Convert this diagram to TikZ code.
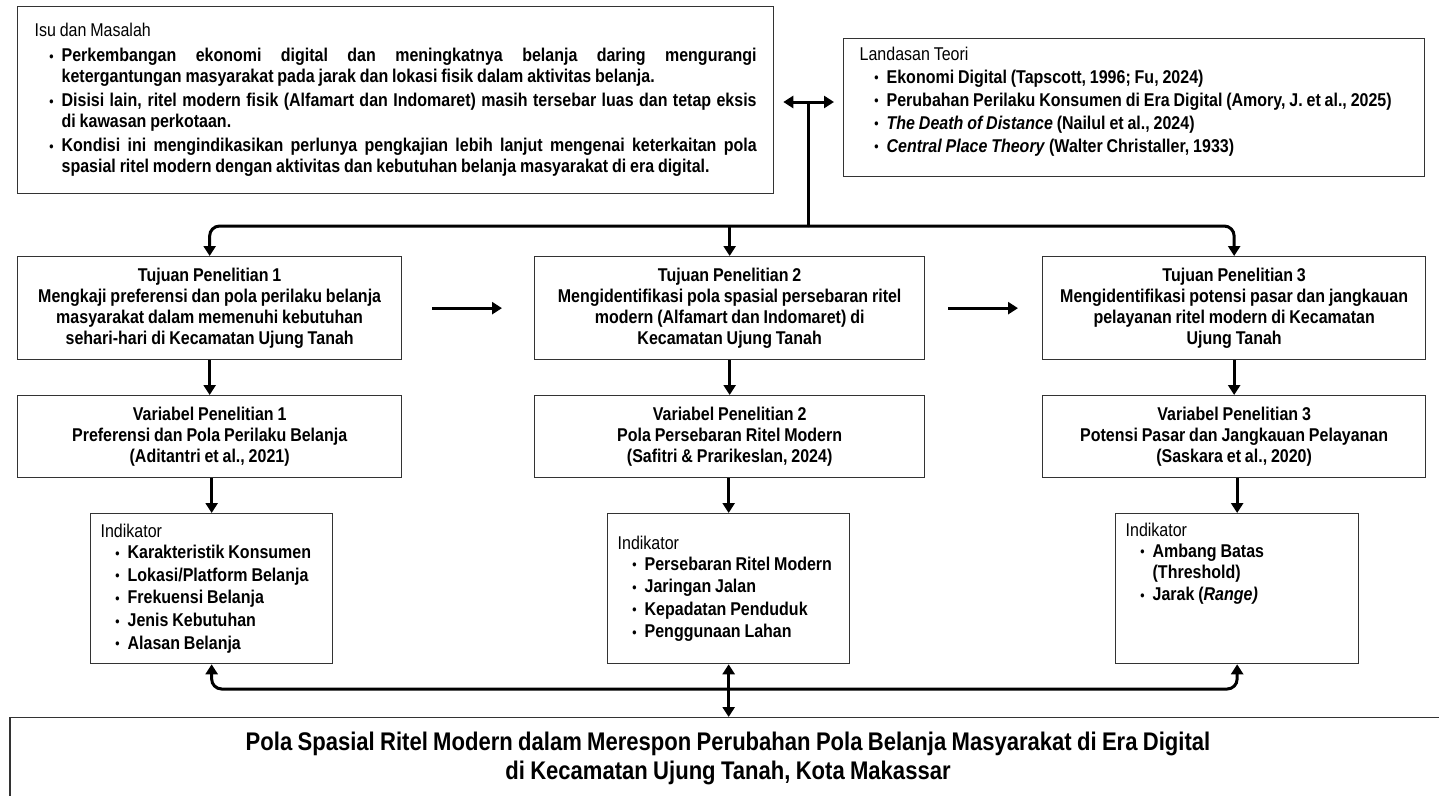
\documentclass[tikz,border=0pt]{standalone}
\usepackage{fontspec}
\setmainfont{Liberation Sans}[FakeStretch=0.865, WordSpace=0.865]
\usepackage{enumitem}
\usetikzlibrary{arrows.meta}
\definecolor{boxgray}{HTML}{333333}
\newcommand\bodyfont{\fontsize{18.5pt}{21pt}\selectfont}
\newcommand\titlefont{\fontsize{25.5pt}{29pt}\selectfont}
\newcommand\mybullet{\raisebox{0.5pt}{\fontsize{14pt}{14pt}\selectfont\textbullet}}
\setlist[itemize]{label=\mybullet, leftmargin=27pt, labelsep=8pt, topsep=0pt, partopsep=0pt, parsep=0pt, itemsep=3pt}
\tikzset{
  box/.style={draw=boxgray, line width=1.3pt, fill=white, anchor=north west, inner ysep=0pt},
  conn/.style={line width=3pt, black},
  arr/.style={conn, -{Triangle[length=10pt,width=12pt]}},
  dbl/.style={conn, {Triangle[length=10pt,width=12pt]}-{Triangle[length=10pt,width=12pt]}},
  goal/.style={box, font=\bodyfont\bfseries, align=center, inner xsep=4pt},
}
\begin{document}
\begin{tikzpicture}[x=1pt,y=-1pt]
\useasboundingbox (0,0) rectangle (1439,795);
\clip (0,0) rectangle (1439,795);
\fill[white] (0,0) rectangle (1439,795);

% Isu dan Masalah
\node[box, minimum width=756pt, minimum height=187pt, text width=722pt, inner xsep=15pt, align=justify, font=\bodyfont\bfseries] (isu) at (17,6) {%
{\mdseries Isu dan Masalah}\par\vspace{4pt}
\begin{itemize}
\item Perkembangan ekonomi digital dan meningkatnya belanja daring mengurangi\linebreak ketergantungan masyarakat pada jarak dan lokasi fisik dalam aktivitas belanja.
\item Disisi lain, ritel modern fisik (Alfamart dan Indomaret) masih tersebar luas dan tetap eksis\linebreak di kawasan perkotaan.
\item Kondisi ini mengindikasikan perlunya pengkajian lebih lanjut mengenai keterkaitan pola\linebreak spasial ritel modern dengan aktivitas dan kebutuhan belanja masyarakat di era digital.
\end{itemize}};

% Landasan Teori
\node[box, minimum width=581pt, minimum height=138pt, inner xsep=0pt, font=\bodyfont\bfseries] (lan) at (843,38) {\parbox[c][122pt][t]{565pt}{\raggedright
\hspace*{8pt}{\mdseries Landasan Teori}\par\vspace{2pt}
\begin{itemize}[leftmargin=35pt, itemsep=2pt]
\item Ekonomi Digital (Tapscott, 1996; Fu, 2024)
\item Perubahan Perilaku Konsumen di Era Digital (Amory, J. et al., 2025)
\item \textit{The Death of Distance} (Nailul et al., 2024)
\item \textit{Central Place Theory} (Walter Christaller, 1933)
\end{itemize}}};

% Tujuan
\node[goal, minimum width=384pt, minimum height=103pt] (t1) at (17,256) {Tujuan Penelitian 1\\Mengkaji preferensi dan pola perilaku belanja\\masyarakat dalam memenuhi kebutuhan\\sehari-hari di Kecamatan Ujung Tanah};
\node[goal, minimum width=390pt, minimum height=103pt] (t2) at (534,256) {Tujuan Penelitian 2\\Mengidentifikasi pola spasial persebaran ritel\\modern (Alfamart dan Indomaret) di\\Kecamatan Ujung Tanah};
\node[goal, minimum width=383pt, minimum height=103pt] (t3) at (1042,256) {Tujuan Penelitian 3\\Mengidentifikasi potensi pasar dan jangkauan\\pelayanan ritel modern di Kecamatan\\Ujung Tanah};

% Variabel
\node[goal, minimum width=384pt, minimum height=82pt] (v1) at (17,395) {Variabel Penelitian 1\\Preferensi dan Pola Perilaku Belanja\\(Aditantri et al., 2021)};
\node[goal, minimum width=390pt, minimum height=82pt] (v2) at (534,395) {Variabel Penelitian 2\\Pola Persebaran Ritel Modern\\(Safitri \& Prarikeslan, 2024)};
\node[goal, minimum width=383pt, minimum height=82pt] (v3) at (1042,395) {Variabel Penelitian 3\\Potensi Pasar dan Jangkauan Pelayanan\\(Saskara et al., 2020)};

% Indikator
\node[box, minimum width=242pt, minimum height=150pt, inner xsep=10pt, font=\bodyfont\bfseries] (i1) at (90,513) {\parbox[c][132pt][c]{222pt}{\raggedright
{\mdseries Indikator}\par
\begin{itemize}[itemsep=1.6pt]
\item Karakteristik Konsumen
\item Lokasi/Platform Belanja
\item Frekuensi Belanja
\item Jenis Kebutuhan
\item Alasan Belanja
\end{itemize}}};
\node[box, minimum width=242pt, minimum height=150pt, inner xsep=10pt, font=\bodyfont\bfseries] (i2) at (607,513) {\parbox[c][132pt][c]{222pt}{\raggedright
{\mdseries Indikator}\par
\begin{itemize}[itemsep=1.6pt]
\item Persebaran Ritel Modern
\item Jaringan Jalan
\item Kepadatan Penduduk
\item Penggunaan Lahan
\end{itemize}}};
\node[box, minimum width=243pt, minimum height=150pt, inner xsep=10pt, font=\bodyfont\bfseries] (i3) at (1115,513) {\parbox[c][132pt][t]{223pt}{\raggedright
{\mdseries Indikator}\par
\begin{itemize}[itemsep=1.6pt]
\item Ambang Batas\newline (Threshold)
\item Jarak (\textit{Range)}
\end{itemize}}};

% Judul
\node[box, anchor=north, minimum width=1436pt, minimum height=82pt, align=center, font=\titlefont\bfseries] (bot) at (728,717) {Pola Spasial Ritel Modern dalam Merespon Perubahan Pola Belanja Masyarakat di Era Digital\\di Kecamatan Ujung Tanah, Kota Makassar};

% Connectors top
\coordinate (jn) at (808,102);
\coordinate (hb) at (808,226);
\draw[dbl, shorten <=9pt, shorten >=9pt] (isu.east |- jn) -- (lan.west |- jn);
\draw[conn] (jn) -- (hb);
\draw[arr, rounded corners=10pt] (hb) -| (t1.north);
\draw[arr, rounded corners=10pt] (hb) -| (t3.north);
\draw[arr] (hb -| t2.north) -- (t2.north);

% between goals
\draw[arr, shorten <=30pt, shorten >=32pt] (t1) -- (t2);
\draw[arr, shorten <=23pt, shorten >=24pt] (t2) -- (t3);

% goals to variables
\draw[arr] (t1) -- (v1);
\draw[arr] (t2) -- (v2);
\draw[arr] (t3) -- (v3);

% variables to indicators
\draw[arr] (v1.south -| i1.north) -- (i1.north);
\draw[arr] (v2.south -| i2.north) -- (i2.north);
\draw[arr] (v3.south -| i3.north) -- (i3.north);

% bottom connectors
\coordinate (bb) at (729,689);
\draw[arr, rounded corners=10pt] (bb) -| (i1.south);
\draw[arr, rounded corners=10pt] (bb) -| (i3.south);
\draw[dbl] (i2.south) -- (bot.north -| i2.south);
\end{tikzpicture}
\end{document}
